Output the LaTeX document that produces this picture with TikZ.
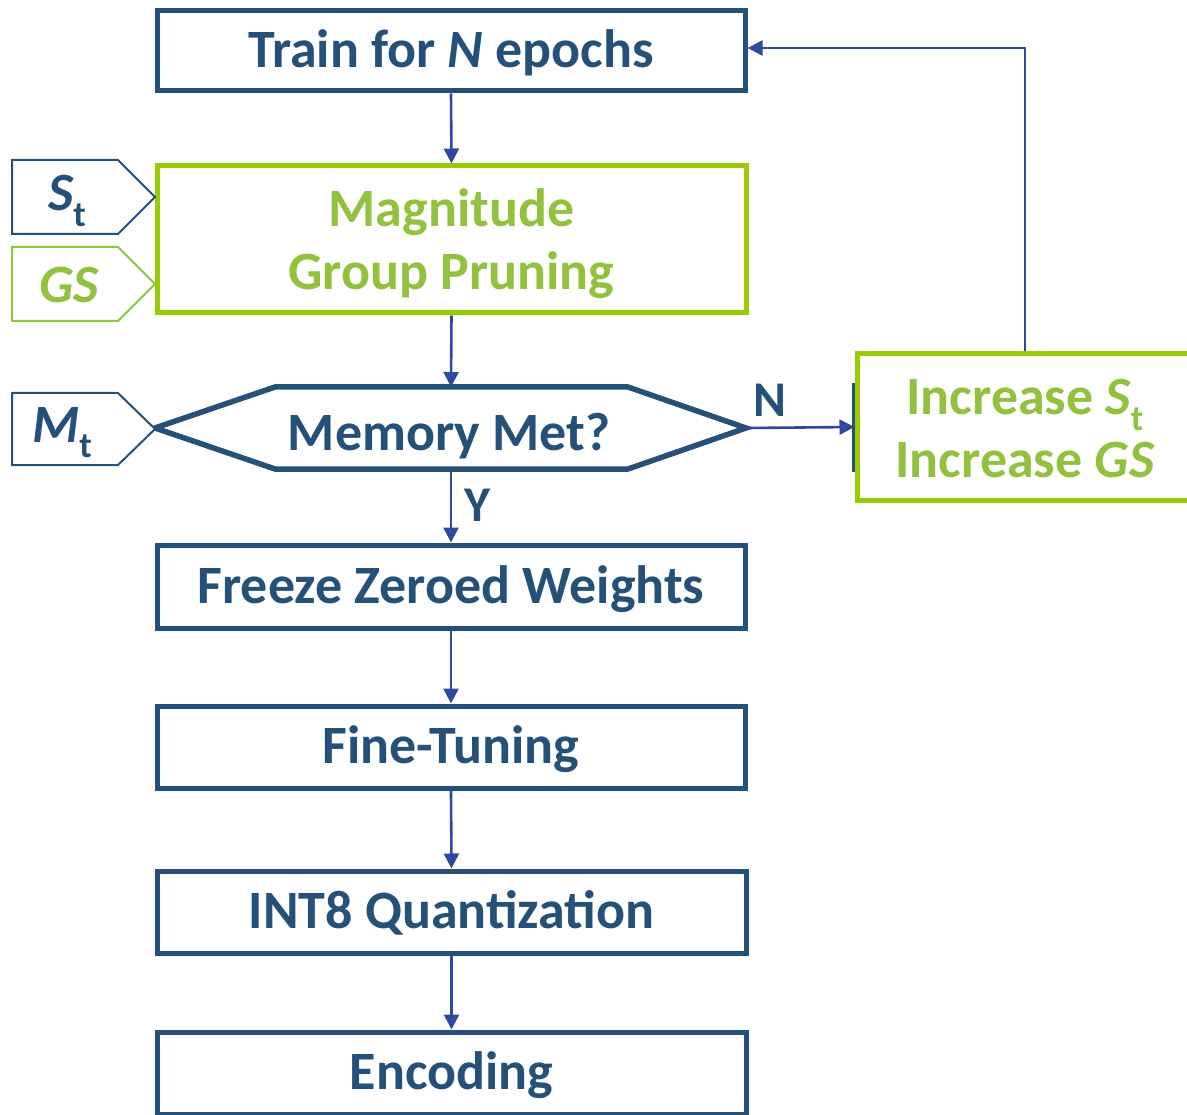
\documentclass[tikz,border=0pt]{standalone}
\usepackage{fontspec}
\setmainfont{Carlito}
\usetikzlibrary{arrows.meta}
\definecolor{navy}{RGB}{36,80,122}
\definecolor{flowblue}{RGB}{46,74,158}
\definecolor{limeframe}{RGB}{153,204,0}
\definecolor{limetext}{RGB}{146,193,62}
\definecolor{limetag}{RGB}{141,198,63}
\newcommand{\sub}[1]{\raisebox{-0.28em}{\fontsize{36}{36}\selectfont #1}}
\tikzset{
  basebox/.style={draw=navy, line width=5pt, fill=white, text=navy,
    font=\fontsize{54}{63}\selectfont\bfseries, inner sep=0pt},
  onelinebox/.style={basebox, text height=40pt, text depth=7pt},
  greenbox/.style={basebox, draw=limeframe},
  greentext/.style={font=\fontsize{54}{63}\selectfont\bfseries, text=limetext,
    align=center, inner sep=0pt},
  flow/.style={draw=flowblue, line width=2.6pt,
    -{Triangle[length=15pt,width=15pt]}},
  tagtext/.style={font=\fontsize{54}{54}\selectfont\bfseries\itshape, inner sep=0pt},
  edgelabel/.style={font=\fontsize{50}{50}\selectfont\bfseries, text=navy, inner sep=0pt},
}
\begin{document}
\begin{tikzpicture}[x=1pt,y=-1pt]
\useasboundingbox (0,0) rectangle (1187,1115);

% main chain of steps
\node[onelinebox, minimum width=588pt, minimum height=80pt] (train) at (451,51)
  {Train for {\itshape N} epochs};
\node[greenbox, minimum width=589pt, minimum height=147pt] (prune) at (451.5,239.5) {};
\node[greentext] (prunetext) at ([yshift=-4pt]prune.center) {Magnitude\\Group Pruning};

% decision hexagon
\coordinate (hexL) at (155,428);
\coordinate (hexR) at (746,428);
\coordinate (hexT) at (451,387);
\coordinate (hexB) at (451,469);
\draw[navy, line width=5.5pt, line join=miter, fill=white]
  (hexL) -- (275,387) -- (628,387) -- (hexR) -- (628,469) -- (275,469) -- cycle;
\node[basebox, draw=none, fill=none] (memory) at (449,436) {Memory Met?};

% edge of the shape behind the increase box
\draw[navy, line width=3pt] (853.5,383) -- (853.5,472);
\node[greenbox, minimum width=338pt, minimum height=146pt] (increase) at (1026,427) {};
\node[greentext] (increasetext) at ([xshift=-1pt,yshift=-2pt]increase.center)
  {Increase {\itshape S}\sub{t}\\Increase {\itshape GS}};

\node[onelinebox, minimum width=588pt, minimum height=83pt] (freeze) at (451,586.5)
  {Freeze Zeroed Weights};
\node[onelinebox, minimum width=588pt, minimum height=82pt] (finetune) at (451,747)
  {Fine-Tuning};
\node[onelinebox, minimum width=589pt, minimum height=82pt] (quant) at (451.5,912)
  {INT8 Quantization};
\node[onelinebox, minimum width=589pt, minimum height=82pt] (encode) at (451.5,1073)
  {Encoding};

% input tags on the left
\draw[navy, line width=2pt, fill=white]
  (12,160) -- (118,160) -- (155,197) -- (118,234) -- (12,234) -- cycle;
\node[tagtext, text=navy] (st) at (67,201) {S\sub{\upshape t}};
\draw[limetag, line width=2pt, fill=white]
  (12,247) -- (118,247) -- (155,284) -- (118,321) -- (12,321) -- cycle;
\node[tagtext, text=limetext] (gs) at (69,285) {GS};
\draw[navy, line width=2pt, fill=white]
  (12,393) -- (118,393) -- (155,429) -- (118,465) -- (12,465) -- cycle;
\node[tagtext, text=navy] (mt) at (62,433) {M\sub{\upshape t}};

% connectors
\draw[flow] (train.south) -- (prune.north);
\draw[flow] (prune.south) -- (hexT);
\draw[flow] (hexB) -- (freeze.north) node[edgelabel, pos=0.5, right=12pt] (ylab) {Y};
\draw[flow] (hexR) -- (increase.west) node[edgelabel, pos=0.22, above=10pt] (nlab) {N};
\draw[flow] (increase.north -| 1025,0) -- (1025,48) -- (train.east |- 0,48);
\draw[flow] (freeze.south) -- (finetune.north);
\draw[flow] (finetune.south) -- (quant.north);
\draw[flow] (quant.south) -- (encode.north);
\end{tikzpicture}
\end{document}
